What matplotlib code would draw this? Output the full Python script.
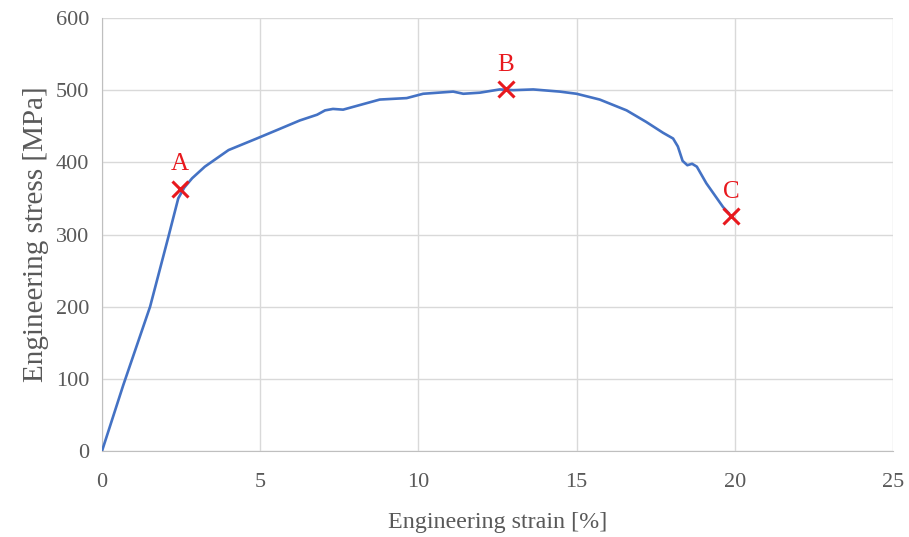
import matplotlib.pyplot as plt

plt.rcParams['font.family'] = ['Liberation Serif', 'DejaVu Serif']

# Data
strain = [0, 0.67, 1.52, 2.1, 2.41, 2.6, 2.85, 3.25, 4.0, 4.89, 5.6, 6.25, 6.8, 7.05,
          7.3, 7.62, 8.2, 8.78, 9.63, 10.15, 11.1, 11.42, 11.94, 12.57, 13.0, 13.63,
          14.47, 15.0, 15.73, 16.58, 17.2, 17.73, 18.05, 18.2, 18.35, 18.5, 18.65,
          18.8, 19.1, 19.63, 19.8]
stress = [0, 91, 200, 297, 350, 365, 378, 394, 417, 433, 446, 458, 466, 472,
          474, 473, 480, 487, 489, 495, 498, 495, 496.5, 501, 500, 501,
          498, 495, 487, 472, 456, 441, 433, 422, 402, 396, 398,
          394, 371, 338, 330]

point_labels = ['A', 'B', 'C']
point_strain = [2.46, 12.77, 19.89]
point_stress = [363, 501, 325]

fig, ax = plt.subplots(figsize=(9.09, 5.37), dpi=100)
fig.subplots_adjust(left=0.1122, right=0.9824, bottom=0.1601, top=0.9665)

ax.plot(strain, stress, color='#4472C4', lw=1.9, zorder=3)
ax.plot(point_strain, point_stress, 'x', color='#E8191E', ms=12, mew=2.2, zorder=4)
for lab, x, y in zip(point_labels, point_strain, point_stress):
    ax.annotate(lab, (x, y), xytext=(0, 10), textcoords='offset points',
                ha='center', va='bottom', color='#E8191E', fontsize=18)

ax.set_xlim(0, 25)
ax.set_ylim(0, 600)
ax.set_xticks(range(0, 26, 5))
ax.set_yticks(range(0, 601, 100))
ax.grid(True, color='#D9D9D9', lw=1)
ax.set_axisbelow(True)
for s in ['top', 'right']:
    ax.spines[s].set_visible(False)
for s in ['left', 'bottom']:
    ax.spines[s].set_color('#BFBFBF')
ax.tick_params(length=0, labelsize=16, labelcolor='#595959')
ax.tick_params(axis='x', pad=16)
ax.tick_params(axis='y', pad=9)

ax.set_xlabel('Engineering strain [%]', fontsize=17.3, color='#595959', labelpad=14)
ax.set_ylabel('Engineering stress [MPa]', fontsize=21, color='#595959', labelpad=5)

fig.savefig('out.png')
